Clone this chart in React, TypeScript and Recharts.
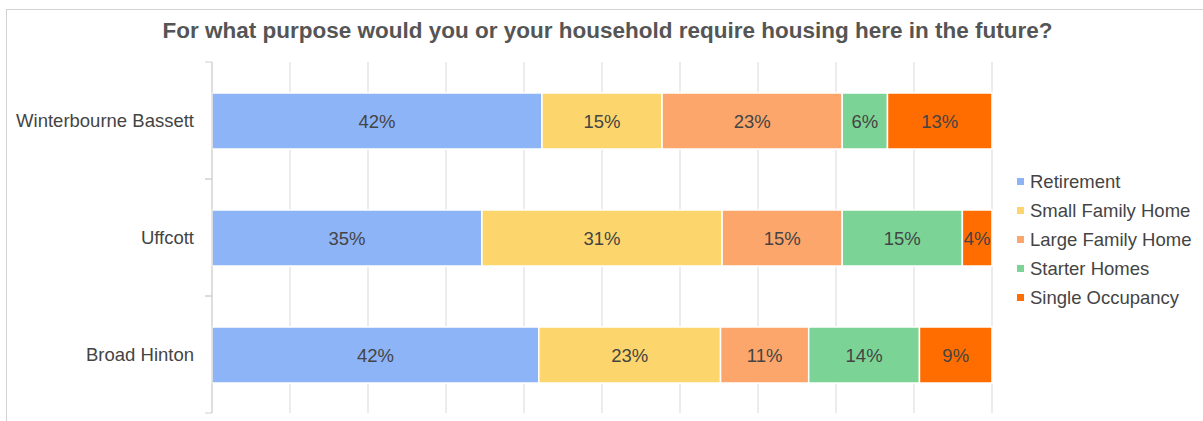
import React from 'react';
import { BarChart, Bar, XAxis, YAxis, CartesianGrid, Legend, LabelList } from 'recharts';

const villages = ['Winterbourne Bassett', 'Uffcott', 'Broad Hinton'];
const retirement = [42.3, 34.6, 41.9];
const smallFamilyHome = [15.4, 30.8, 23.3];
const largeFamilyHome = [23.1, 15.4, 11.3];
const starterHomes = [5.8, 15.4, 14.2];
const singleOccupancy = [13.4, 3.8, 9.3];
const xTicks = [0, 0.1, 0.2, 0.3, 0.4, 0.5, 0.6, 0.7, 0.8, 0.9, 1];

const series = [
    { key: 'retirement', name: 'Retirement', color: '#8db4f7', values: retirement },
    { key: 'small', name: 'Small Family Home', color: '#fdd56d', values: smallFamilyHome },
    { key: 'large', name: 'Large Family Home', color: '#fca66b', values: largeFamilyHome },
    { key: 'starter', name: 'Starter Homes', color: '#7bd496', values: starterHomes },
    { key: 'single', name: 'Single Occupancy', color: '#ff6d01', values: singleOccupancy },
];

const data = villages.map((v, i) => {
    const row: Record<string, string | number> = { village: v };
    series.forEach((s) => { row[s.key] = s.values[i]; });
    return row;
});

const FONT = '"Liberation Sans", Arial, sans-serif';
const W = 1203;
const H = 421;
const TOP = 62;
const BOTTOM = 8;
const BAND = (H - TOP - BOTTOM) / villages.length;
const AXIS_W = 212;

const CategoryTick = (props: any) => {
    const { y, payload } = props;
    return (
        <g>
            <text x={AXIS_W - 18} y={y} dy={6} textAnchor="end" fill="#444" fontSize={18.5} fontFamily={FONT}>
                {payload.value}
            </text>
            <line x1={AXIS_W - 7} x2={AXIS_W} y1={y - BAND / 2} y2={y - BAND / 2} stroke="#d0d0d0" />
            <line x1={AXIS_W - 7} x2={AXIS_W} y1={y + BAND / 2} y2={y + BAND / 2} stroke="#d0d0d0" />
        </g>
    );
};

// legend keeps the series order (recharts sorts its payload otherwise)
const LegendList = () => (
    <ul style={{ margin: 0, padding: 0, listStyle: 'none' }}>
        {series.map((s) => (
            <li key={s.key} style={{ height: 29, display: 'flex', alignItems: 'center', fontSize: 18.5, color: '#444', fontFamily: FONT }}>
                <span style={{ width: 7, height: 7, background: s.color, marginRight: 6, display: 'inline-block' }} />
                {s.name}
            </li>
        ))}
    </ul>
);

export default function App() {
    return (
        <div style={{ position: 'fixed', left: 0, top: 0, width: W, height: H, background: '#fff', overflow: 'hidden', fontFamily: FONT }}>
            <div style={{ position: 'absolute', left: 6, top: 9, width: 1400, height: 600, border: '1px solid #d3d3d3' }} />
            <div style={{ position: 'absolute', left: 6, top: 18, width: W, textAlign: 'center', fontSize: 22.5, lineHeight: '26px', fontWeight: 'bold', color: '#555' }}>
                For what purpose would you or your household require housing here in the future?
            </div>
            <div style={{ position: 'absolute', left: 0, top: 0 }}>
                <BarChart
                    width={W}
                    height={H}
                    layout="vertical"
                    data={data}
                    stackOffset="expand"
                    barSize={56}
                    margin={{ top: TOP, right: 211, bottom: BOTTOM, left: 0 }}
                >
                    <CartesianGrid horizontal={false} stroke="#d9d9d9" />
                    <XAxis
                        type="number"
                        domain={[0, 1]}
                        ticks={xTicks}
                        interval={0}
                        height={0}
                        tick={() => <g />}
                        axisLine={false}
                        tickLine={false}
                    />
                    <YAxis
                        type="category"
                        dataKey="village"
                        width={AXIS_W}
                        axisLine={{ stroke: '#d0d0d0' }}
                        tickLine={false}
                        tick={<CategoryTick />}
                    />
                    <Legend
                        layout="vertical"
                        align="center"
                        verticalAlign="middle"
                        wrapperStyle={{ left: 1017, top: 167, width: 186 }}
                        content={<LegendList />}
                    />
                    {series.map((s) => (
                        <Bar key={s.key} dataKey={s.key} name={s.name} stackId="a" fill={s.color} stroke="#fff" strokeWidth={1.5} isAnimationActive={false}>
                            <LabelList
                                dataKey={s.key}
                                position="center"
                                fill="#444"
                                stroke="none"
                                fontSize={18.5}
                                fontFamily={FONT}
                                formatter={(v: any) => `${Math.round(Number(v))}%`}
                            />
                        </Bar>
                    ))}
                </BarChart>
            </div>
        </div>
    );
}
